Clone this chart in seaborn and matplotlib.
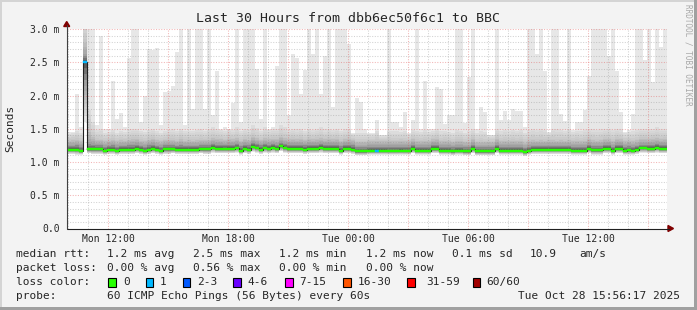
import numpy as np
import matplotlib
matplotlib.use("Agg")
import matplotlib.pyplot as plt
import seaborn as sns
from matplotlib.patches import Rectangle, Polygon
from matplotlib.lines import Line2D

# ---------------- data ----------------
start_hour = 9.938      # Mon 09:56 as hours since Mon 00:00
step_hours = 0.2        # one consolidated column = 12 minutes

rtt_median = [
    1.185, 1.185, 1.185, 1.160, 2.500, 1.190, 1.190, 1.190, 1.190, 1.165,
    1.185, 1.185, 1.165, 1.185, 1.185, 1.185, 1.185, 1.200, 1.185, 1.165,
    1.185, 1.200, 1.185, 1.165, 1.190, 1.190, 1.190, 1.185, 1.185, 1.185,
    1.185, 1.185, 1.185, 1.190, 1.190, 1.190, 1.215, 1.200, 1.200, 1.200,
    1.200, 1.200, 1.210, 1.170, 1.200, 1.185, 1.230, 1.210, 1.185, 1.210,
    1.200, 1.215, 1.200, 1.240, 1.210, 1.200, 1.200, 1.200, 1.200, 1.185,
    1.200, 1.200, 1.200, 1.215, 1.200, 1.200, 1.200, 1.200, 1.170, 1.200,
    1.200, 1.185, 1.160, 1.160, 1.160, 1.170, 1.170, 1.170, 1.170, 1.170,
    1.165, 1.165, 1.165, 1.170, 1.165, 1.165, 1.200, 1.170, 1.170, 1.170,
    1.170, 1.200, 1.200, 1.170, 1.170, 1.170, 1.160, 1.170, 1.170, 1.160,
    1.160, 1.200, 1.160, 1.160, 1.160, 1.160, 1.160, 1.200, 1.170, 1.170,
    1.170, 1.170, 1.170, 1.170, 1.150, 1.170, 1.185, 1.185, 1.185, 1.185,
    1.185, 1.185, 1.185, 1.185, 1.185, 1.185, 1.170, 1.170, 1.170, 1.170,
    1.200, 1.175, 1.175, 1.175, 1.200, 1.200, 1.170, 1.200, 1.200, 1.170,
    1.175, 1.170, 1.185, 1.210, 1.210, 1.200, 1.200, 1.215, 1.200, 1.200]

rtt_min = [
    1.12, 1.12, 1.11, 1.11, 1.60, 1.13, 1.12, 1.12, 1.12, 1.11,
    1.12, 1.12, 1.11, 1.12, 1.12, 1.12, 1.12, 1.13, 1.12, 1.11,
    1.12, 1.13, 1.12, 1.11, 1.12, 1.12, 1.13, 1.12, 1.12, 1.12,
    1.12, 1.12, 1.12, 1.13, 1.12, 1.12, 1.14, 1.13, 1.13, 1.13,
    1.13, 1.13, 1.14, 1.11, 1.13, 1.12, 1.15, 1.14, 1.12, 1.14,
    1.13, 1.14, 1.13, 1.16, 1.14, 1.13, 1.13, 1.13, 1.13, 1.12,
    1.13, 1.13, 1.13, 1.14, 1.13, 1.13, 1.13, 1.13, 1.11, 1.13,
    1.13, 1.12, 1.10, 1.10, 1.10, 1.11, 1.11, 1.11, 1.11, 1.11,
    1.11, 1.11, 1.11, 1.11, 1.11, 1.11, 1.13, 1.11, 1.11, 1.11,
    1.11, 1.13, 1.13, 1.11, 1.11, 1.11, 1.10, 1.11, 1.11, 1.10,
    1.10, 1.13, 1.10, 1.10, 1.10, 1.10, 1.10, 1.13, 1.11, 1.11,
    1.11, 1.11, 1.11, 1.11, 1.09, 1.11, 1.12, 1.12, 1.12, 1.12,
    1.12, 1.12, 1.12, 1.12, 1.12, 1.12, 1.11, 1.11, 1.11, 1.11,
    1.13, 1.11, 1.11, 1.11, 1.13, 1.13, 1.11, 1.13, 1.13, 1.11,
    1.11, 1.11, 1.12, 1.14, 1.14, 1.13, 1.13, 1.14, 1.13, 1.13]

rtt_p75 = [
    1.26, 1.26, 1.27, 1.25, 2.62, 1.30, 1.28, 1.27, 1.27, 1.25,
    1.26, 1.27, 1.25, 1.26, 1.26, 1.27, 1.27, 1.28, 1.26, 1.25,
    1.27, 1.28, 1.26, 1.25, 1.27, 1.27, 1.27, 1.26, 1.27, 1.26,
    1.26, 1.26, 1.26, 1.27, 1.27, 1.27, 1.29, 1.28, 1.28, 1.27,
    1.28, 1.28, 1.29, 1.26, 1.28, 1.27, 1.31, 1.29, 1.27, 1.29,
    1.28, 1.29, 1.28, 1.31, 1.29, 1.28, 1.28, 1.28, 1.28, 1.27,
    1.28, 1.28, 1.28, 1.29, 1.28, 1.28, 1.28, 1.28, 1.26, 1.28,
    1.28, 1.27, 1.24, 1.24, 1.24, 1.25, 1.25, 1.25, 1.25, 1.25,
    1.25, 1.25, 1.25, 1.25, 1.25, 1.25, 1.28, 1.25, 1.25, 1.25,
    1.25, 1.28, 1.28, 1.25, 1.25, 1.25, 1.24, 1.25, 1.25, 1.24,
    1.24, 1.28, 1.24, 1.24, 1.24, 1.24, 1.24, 1.28, 1.25, 1.25,
    1.25, 1.25, 1.25, 1.25, 1.23, 1.25, 1.26, 1.26, 1.26, 1.26,
    1.26, 1.26, 1.26, 1.26, 1.26, 1.26, 1.25, 1.25, 1.25, 1.25,
    1.28, 1.26, 1.26, 1.26, 1.28, 1.28, 1.25, 1.28, 1.28, 1.25,
    1.26, 1.25, 1.26, 1.28, 1.28, 1.28, 1.28, 1.29, 1.28, 1.28]

rtt_p90 = [
    1.34, 1.35, 1.36, 1.33, 2.85, 1.50, 1.40, 1.36, 1.35, 1.33,
    1.34, 1.36, 1.33, 1.35, 1.34, 1.36, 1.37, 1.37, 1.34, 1.33,
    1.36, 1.37, 1.35, 1.33, 1.35, 1.36, 1.36, 1.34, 1.37, 1.34,
    1.35, 1.34, 1.35, 1.36, 1.35, 1.36, 1.38, 1.37, 1.36, 1.35,
    1.37, 1.36, 1.38, 1.34, 1.37, 1.36, 1.40, 1.38, 1.35, 1.38,
    1.36, 1.37, 1.37, 1.40, 1.38, 1.36, 1.37, 1.36, 1.37, 1.35,
    1.37, 1.36, 1.37, 1.38, 1.36, 1.37, 1.36, 1.37, 1.34, 1.36,
    1.37, 1.35, 1.32, 1.32, 1.32, 1.33, 1.33, 1.34, 1.33, 1.33,
    1.34, 1.33, 1.33, 1.34, 1.33, 1.33, 1.36, 1.34, 1.33, 1.34,
    1.33, 1.36, 1.37, 1.33, 1.34, 1.33, 1.32, 1.34, 1.34, 1.32,
    1.33, 1.37, 1.32, 1.33, 1.32, 1.32, 1.32, 1.37, 1.33, 1.34,
    1.33, 1.34, 1.33, 1.34, 1.31, 1.34, 1.35, 1.34, 1.35, 1.34,
    1.35, 1.35, 1.34, 1.35, 1.34, 1.35, 1.33, 1.34, 1.33, 1.34,
    1.37, 1.35, 1.34, 1.35, 1.37, 1.36, 1.34, 1.37, 1.36, 1.33,
    1.34, 1.33, 1.35, 1.37, 1.37, 1.36, 1.37, 1.38, 1.36, 1.37]

rtt_p97 = [
    1.42, 1.43, 1.46, 1.44, 3.20, 1.78, 1.60, 1.48, 1.50, 1.44,
    1.45, 1.48, 1.44, 1.47, 1.45, 1.49, 1.50, 1.50, 1.46, 1.45,
    1.48, 1.50, 1.47, 1.44, 1.47, 1.48, 1.49, 1.46, 1.50, 1.46,
    1.47, 1.46, 1.48, 1.49, 1.47, 1.50, 1.52, 1.50, 1.48, 1.47,
    1.49, 1.48, 1.52, 1.46, 1.50, 1.48, 1.55, 1.51, 1.47, 1.52,
    1.48, 1.50, 1.50, 1.55, 1.52, 1.48, 1.50, 1.49, 1.50, 1.47,
    1.50, 1.48, 1.50, 1.52, 1.49, 1.50, 1.48, 1.50, 1.46, 1.49,
    1.50, 1.42, 1.43, 1.44, 1.43, 1.42, 1.42, 1.46, 1.40, 1.40,
    1.47, 1.46, 1.46, 1.45, 1.47, 1.42, 1.48, 1.47, 1.45, 1.48,
    1.45, 1.46, 1.50, 1.46, 1.47, 1.45, 1.44, 1.48, 1.47, 1.44,
    1.46, 1.50, 1.44, 1.46, 1.45, 1.40, 1.40, 1.50, 1.46, 1.48,
    1.46, 1.48, 1.47, 1.48, 1.44, 1.48, 1.50, 1.48, 1.50, 1.48,
    1.43, 1.50, 1.49, 1.48, 1.47, 1.50, 1.45, 1.47, 1.46, 1.48,
    1.50, 1.49, 1.48, 1.49, 1.50, 1.50, 1.48, 1.50, 1.49, 1.43,
    1.45, 1.46, 1.48, 1.50, 1.50, 1.50, 1.50, 1.52, 1.50, 1.50]

rtt_max = [
    1.45, 1.45, 2.03, 1.52, 3.40, 3.40, 3.40, 1.55, 2.90, 1.50,
    1.50, 2.22, 1.64, 1.73, 1.52, 2.56, 3.40, 3.40, 1.60, 2.00,
    2.70, 2.68, 2.72, 1.55, 2.05, 2.07, 2.15, 2.65, 3.40, 1.55,
    3.40, 1.80, 3.40, 3.40, 1.80, 3.40, 1.70, 2.37, 1.50, 1.52,
    1.50, 1.88, 3.40, 1.60, 3.40, 3.40, 3.40, 2.40, 1.65, 3.40,
    1.50, 1.52, 2.45, 3.40, 3.40, 1.70, 2.62, 2.56, 2.03, 2.38,
    3.40, 2.63, 3.40, 2.03, 2.59, 3.40, 1.83, 3.40, 3.40, 3.40,
    2.77, 1.43, 1.96, 1.90, 1.50, 1.44, 1.44, 1.63, 1.41, 1.41,
    3.40, 1.60, 1.60, 1.52, 1.75, 1.44, 1.63, 3.40, 1.50, 2.22,
    1.50, 1.50, 2.13, 2.10, 1.57, 1.70, 1.70, 3.40, 3.40, 1.58,
    2.28, 3.40, 1.50, 1.83, 1.75, 1.41, 1.41, 3.40, 1.63, 1.76,
    1.63, 1.80, 1.76, 1.76, 1.52, 3.40, 3.40, 2.62, 3.40, 2.37,
    1.45, 3.40, 3.40, 1.72, 1.62, 3.40, 1.48, 1.60, 1.60, 1.78,
    2.30, 3.40, 3.40, 3.40, 3.40, 2.60, 3.40, 2.37, 1.75, 1.45,
    1.48, 1.72, 3.40, 3.40, 2.53, 3.40, 2.20, 3.40, 2.73, 3.40]

# columns with lost pings (column index -> lost pings of 60)
loss_events = {4: 1, 77: 1}

x_tick_hours = [12, 18, 24, 30, 36]
x_tick_labels = ["Mon 12:00", "Mon 18:00", "Tue 00:00", "Tue 06:00", "Tue 12:00"]
y_ticks = [0.0, 0.5, 1.0, 1.5, 2.0, 2.5, 3.0]
y_tick_labels = ["0.0", "0.5 m", "1.0 m", "1.5 m", "2.0 m", "2.5 m", "3.0 m"]

title = "Last 30 Hours from dbb6ec50f6c1 to BBC"
rtt_stats = ["1.2 ms avg", "2.5 ms max", "1.2 ms min", "1.2 ms now", "0.1 ms sd", "10.9", "am/s"]
loss_stats = ["0.00 % avg", "0.56 % max", "0.00 % min", "0.00 % now"]
loss_labels = ["0", "1", "2-3", "4-6", "7-15", "16-30", "31-59", "60/60"]
loss_colors = ["#26ff00", "#00b8ff", "#0059ff", "#6a00ff", "#ff00ff", "#ff5500", "#ff0000", "#a10000"]
probe_text = "60 ICMP Echo Pings (56 Bytes) every 60s"
stamp_text = "Tue Oct 28 15:56:17 2025"

# ---------------- figure ----------------
sns.set_style("white")
plt.rcParams["font.family"] = ["DejaVu Sans Mono", "DejaVu Sans"]

W, H = 697, 310
def fx(p): return p / W
def fy(p): return 1 - p / H

fig = plt.figure(figsize=(W / 100, H / 100), dpi=100)
fig.patch.set_facecolor("#f3f3f3")

X0, X1, YB, YT = 66.7, 666.7, 228.5, 29.0
ax = fig.add_axes([fx(X0), fy(YB), (X1 - X0) / W, (YB - YT) / H])
ax.set_facecolor("white")
for s in ax.spines.values():
    s.set_visible(False)

med = np.array(rtt_median)
mn = np.array(rtt_min)
p75 = np.array(rtt_p75)
p90 = np.array(rtt_p90)
mx = np.array(rtt_max)
p97 = np.minimum(np.array(rtt_p97), mx)
n = len(med)
x_left = start_hour + step_hours * np.arange(n)
x_edges = start_hour + step_hours * np.arange(n + 1)
def ext(a): return np.append(a, a[-1])

# smoke: outermost layer first
ax.fill_between(x_edges, ext(mn), ext(mx), step="post", color="#e7e7e7", lw=0, zorder=1)
up_nodes = [med, p75, p90, p97]
grey_nodes = [0x44, 0xa0, 0xc6, 0xdc]
low_w = [0.0, 0.40, 0.70, 0.90]
for s in np.arange(3.0, 0.0, -0.25):
    i = int(np.floor(s))
    f = s - i
    if i >= 3:
        up, g, w = up_nodes[3], grey_nodes[3], low_w[3]
    else:
        up = up_nodes[i] + f * (up_nodes[i + 1] - up_nodes[i])
        g = grey_nodes[i] + f * (grey_nodes[i + 1] - grey_nodes[i])
        w = low_w[i] + f * (low_w[i + 1] - low_w[i])
    lo = med - (med - mn) * w
    c = "#%02x%02x%02x" % (int(g), int(g), int(g))
    ax.fill_between(x_edges, ext(lo), ext(up), step="post", color=c, lw=0, zorder=2)

# grid
dot = (0, (1, 1.5))
for h in range(10, 40):
    major = h % 3 == 0
    ax.axvline(h, color="#e05050" if major else "#8f8f8f", alpha=0.42 if major else 0.4,
               lw=0.75, ls=dot, zorder=3)
for j in range(1, 31):
    v = j / 10
    major = j % 5 == 0
    ax.axhline(v, color="#e05050" if major else "#8f8f8f", alpha=0.42 if major else 0.4,
               lw=0.75, ls=dot, zorder=3)

# median line + loss-coloured band
sns.lineplot(x=x_edges, y=ext(med), drawstyle="steps-post", color="#202020", lw=0.8,
             ax=ax, zorder=4, estimator=None, sort=False)
band_cols = []
for k in range(n):
    lost = loss_events.get(k, 0)
    band_cols.append(loss_colors[0] if lost == 0 else loss_colors[1])
ax.bar(x_left, 0.032, bottom=med - 0.016, width=step_hours, align="edge",
       color=band_cols, edgecolor=band_cols, lw=0.3, zorder=5)

ax.set_xlim(start_hour, start_hour + 30)
ax.set_ylim(0, 3.0)

major_x = list(range(12, 40, 3))
ax.set_xticks(major_x)
ax.set_xticklabels([x_tick_labels[x_tick_hours.index(h)] if h in x_tick_hours else "" for h in major_x])
ax.set_xticks([h for h in range(10, 40) if h % 3 != 0], minor=True)
ax.tick_params(axis="x", which="major", direction="out", length=2, width=0.7,
               color="#e08080", pad=2.2, labelsize=7)
ax.tick_params(axis="x", which="minor", direction="out", length=2, width=0.7, color="#a8a8a8")
ax.set_yticks(y_ticks)
ax.set_yticklabels(y_tick_labels)
ax.tick_params(axis="y", which="major", direction="inout", length=3.5, width=0.7,
               color="#404040", pad=3.2, labelsize=7)
ax.grid(False)

# axes lines and arrows
fig.add_artist(Line2D([fx(X0), fx(669)], [fy(YB), fy(YB)], color="#202020", lw=0.8))
fig.add_artist(Line2D([fx(X0), fx(X0)], [fy(YB), fy(25)], color="#404040", lw=0.8))
fig.add_artist(Polygon([(fx(668), fy(YB - 3)), (fx(668), fy(YB + 3)), (fx(673.5), fy(YB))],
                       closed=True, color="#800000", transform=fig.transFigure))
fig.add_artist(Polygon([(fx(X0 - 3), fy(26.5)), (fx(X0 + 3), fy(26.5)), (fx(X0), fy(21.5))],
                       closed=True, color="#800000", transform=fig.transFigure))

# border shading
fig.add_artist(Rectangle((0, 1 - 2 / H), 1, 2 / H, color="#d4d4d4", transform=fig.transFigure, lw=0))
fig.add_artist(Rectangle((0, 0), 2 / W, 1, color="#d4d4d4", transform=fig.transFigure, lw=0))
fig.add_artist(Rectangle((0, 0), 1, 3 / H, color="#a0a0a0", transform=fig.transFigure, lw=0))
fig.add_artist(Rectangle((1 - 3 / W, 0), 3 / W, 1, color="#a0a0a0", transform=fig.transFigure, lw=0))

# texts
fig.text(fx(348), fy(19), title, ha="center", va="center", fontsize=9.5)
fig.text(fx(10), fy(128), "Seconds", ha="center", va="center", rotation=90, fontsize=8)
fig.text(fx(688), fy(4), "RRDTOOL / TOBI OETIKER", ha="center", va="top", rotation=270,
         fontsize=5.5, color="#a8a8a8")

LY = [254, 268, 282, 296]
FS = 8
fig.text(fx(16), fy(LY[0]), "median rtt:", va="center", fontsize=FS)
for xp, t in zip([107, 193, 279, 366, 452, 530, 579], rtt_stats):
    fig.text(fx(xp), fy(LY[0]), t, va="center", fontsize=FS)
fig.text(fx(16), fy(LY[1]), "packet loss:", va="center", fontsize=FS)
for xp, t in zip([107, 193, 279, 366], loss_stats):
    fig.text(fx(xp), fy(LY[1]), t, va="center", fontsize=FS)
fig.text(fx(16), fy(LY[2]), "loss color:", va="center", fontsize=FS)
box_x = [108.3, 145.7, 182.7, 233.3, 285.0, 343.3, 407.3, 472.7]
lab_x = [123.3, 160.0, 196.7, 247.7, 299.0, 357.3, 426.7, 486.7]
for bx, lx, lab, col in zip(box_x, lab_x, loss_labels, loss_colors):
    fig.add_artist(Rectangle((fx(bx), fy(286.7)), 7.7 / W, 8.4 / H, facecolor=col,
                             edgecolor="black", lw=0.8, transform=fig.transFigure))
    fig.text(fx(lx), fy(LY[2]), lab, va="center", fontsize=FS)
fig.text(fx(16), fy(LY[3]), "probe:", va="center", fontsize=FS)
fig.text(fx(107), fy(LY[3]), probe_text, va="center", fontsize=FS)
fig.text(fx(680.5), fy(LY[3]), stamp_text, va="center", ha="right", fontsize=FS)

fig.savefig("out.png", dpi=100, facecolor=fig.get_facecolor())
